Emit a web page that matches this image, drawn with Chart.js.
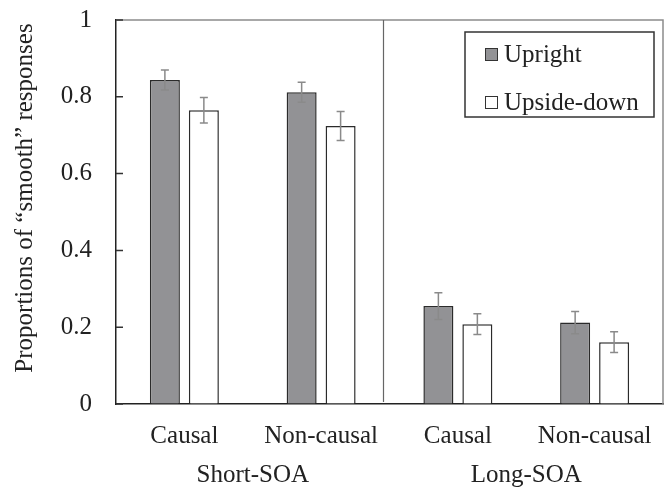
<!DOCTYPE html>
<html>
<head>
<meta charset="utf-8">
<script src="https://cdn.jsdelivr.net/npm/chart.js@4/dist/chart.umd.min.js"></script>
<style>
  html, body { margin: 0; padding: 0; background: #fff; }
  canvas { display: block; }
  #fontwarm { font-family: "Liberation Serif"; font-size: 25px; position: absolute; top: 0; left: 0; visibility: hidden; }
</style>
</head>
<body>
<div id="fontwarm">Causal Non-causal Short-SOA Long-SOA Upright Upside-down 0.2</div>
<canvas id="chart" width="671" height="494"></canvas>
<script>
// Conditions and their SOA groups
const categories = ['Causal', 'Non-causal', 'Causal', 'Non-causal'];
const soaGroups = ['Short-SOA', 'Long-SOA'];

// Mean proportions of "smooth" responses and their error bars
const upright = [0.844, 0.812, 0.255, 0.212];
const uprightErr = [0.026, 0.026, 0.035, 0.029];
const upsideDown = [0.765, 0.724, 0.208, 0.161];
const upsideDownErr = [0.033, 0.038, 0.027, 0.027];

const yTitle = 'Proportions of \u201Csmooth\u201D responses';
const FONT = '"Liberation Serif"';
const TEXT = '#222';

Chart.defaults.font.family = FONT;

const frame = {
  id: 'frame',
  afterDatasetsDraw(chart) {
    const { ctx, chartArea: a, scales } = chart;
    const y = scales.y, x = scales.x;
    ctx.save();

    // error bars
    chart.data.datasets.forEach((ds, di) => {
      const meta = chart.getDatasetMeta(di);
      meta.data.forEach((bar, i) => {
        const v = ds.data[i], e = ds.errors[i];
        const top = y.getPixelForValue(v + e), bot = y.getPixelForValue(v - e);
        ctx.strokeStyle = '#8a8a8a';
        ctx.lineWidth = 1.5;
        ctx.beginPath();
        ctx.moveTo(bar.x, top); ctx.lineTo(bar.x, bot);
        ctx.moveTo(bar.x - 4, top); ctx.lineTo(bar.x + 4, top);
        ctx.moveTo(bar.x - 4, bot); ctx.lineTo(bar.x + 4, bot);
        ctx.stroke();
      });
    });

    // top and right frame
    ctx.strokeStyle = '#8c8c8c';
    ctx.lineWidth = 1.5;
    ctx.beginPath();
    ctx.moveTo(a.left, a.top); ctx.lineTo(a.right, a.top); ctx.lineTo(a.right, a.bottom);
    ctx.stroke();

    // inward tick marks on the value axis
    ctx.strokeStyle = '#333';
    ctx.lineWidth = 1.5;
    ctx.beginPath();
    y.ticks.forEach(t => {
      const py = y.getPixelForValue(t.value);
      ctx.moveTo(a.left, py); ctx.lineTo(a.left + 7, py);
    });
    ctx.stroke();

    // divider between the SOA groups
    const dx = Math.round(x.getPixelForValue(1.45)) + 0.5;
    ctx.strokeStyle = '#666';
    ctx.lineWidth = 1.2;
    ctx.beginPath();
    ctx.moveTo(dx, a.top); ctx.lineTo(dx, a.bottom - 2);
    ctx.stroke();

    // legend
    const lw = 189, lh = 85;
    const lx = a.right - 9 - lw, ly = a.top + 12;
    ctx.fillStyle = '#fff';
    ctx.fillRect(lx, ly, lw, lh);
    ctx.strokeStyle = '#333';
    ctx.lineWidth = 1.5;
    ctx.strokeRect(lx, ly, lw, lh);
    ctx.font = '25px ' + FONT;
    ctx.textBaseline = 'middle';
    ctx.textAlign = 'left';
    chart.data.datasets.forEach((ds, di) => {
      const cy = ly + 22 + di * 48;
      ctx.fillStyle = ds.backgroundColor;
      ctx.fillRect(lx + 20, cy - 6, 13, 13);
      ctx.strokeStyle = '#333';
      ctx.lineWidth = 1;
      ctx.strokeRect(lx + 20.5, cy - 5.5, 12, 12);
      ctx.fillStyle = TEXT;
      ctx.fillText(ds.label, lx + 39, cy + 1);
    });

    // value-axis title
    ctx.translate(25, (a.top + a.bottom) / 2 - 14);
    ctx.rotate(-Math.PI / 2);
    ctx.textAlign = 'center';
    ctx.textBaseline = 'middle';
    ctx.fillStyle = TEXT;
    ctx.font = '25px ' + FONT;
    ctx.fillText(yTitle, 0, 0);
    ctx.restore();
  }
};

function draw() {
  new Chart(document.getElementById('chart'), {
    type: 'bar',
    data: {
      labels: categories,
      datasets: [
        {
          label: 'Upright',
          data: upright,
          errors: uprightErr,
          backgroundColor: '#929295',
          borderColor: '#2b2b2b',
          borderWidth: 1.5
        },
        {
          label: 'Upside-down',
          data: upsideDown,
          errors: upsideDownErr,
          backgroundColor: '#ffffff',
          borderColor: '#2b2b2b',
          borderWidth: 1.5
        }
      ]
    },
    options: {
      responsive: false,
      animation: false,
      devicePixelRatio: 1,
      categoryPercentage: 0.57,
      barPercentage: 0.77,
      layout: { padding: { left: 40, right: 8, top: 20, bottom: 0 } },
      plugins: { legend: { display: false }, tooltip: { enabled: false } },
      scales: {
        y: {
          min: 0, max: 1,
          ticks: {
            stepSize: 0.2, padding: 0, color: TEXT,
            font: { family: FONT, size: 25 },
            callback: v => String(Math.round(v * 10) / 10)
          },
          grid: { display: true, drawOnChartArea: false, drawTicks: true, tickLength: 24, tickColor: 'rgba(0,0,0,0)' },
          border: { display: true, color: '#222', width: 1.5 },
          afterFit(s) { s.width = 76; }
        },
        x: {
          offset: true,
          ticks: { padding: 17, color: TEXT, font: { family: FONT, size: 25 } },
          grid: { display: false, drawTicks: false },
          border: { display: true, color: '#222', width: 1.5 },
          afterFit(s) { s.height = 52; }
        },
        x2: {
          type: 'category',
          position: 'bottom',
          offset: true,
          labels: soaGroups,
          ticks: { padding: 4, color: TEXT, font: { family: FONT, size: 25 } },
          grid: { display: false, drawTicks: false },
          border: { display: false },
          afterFit(s) { s.height = 38; }
        }
      }
    },
    plugins: [frame]
  });
}

const ready = document.fonts && document.fonts.ready ? document.fonts.ready : Promise.resolve();
ready.then(() => document.fonts.load('25px "Liberation Serif"')).then(draw, draw);
</script>
</body>
</html>
